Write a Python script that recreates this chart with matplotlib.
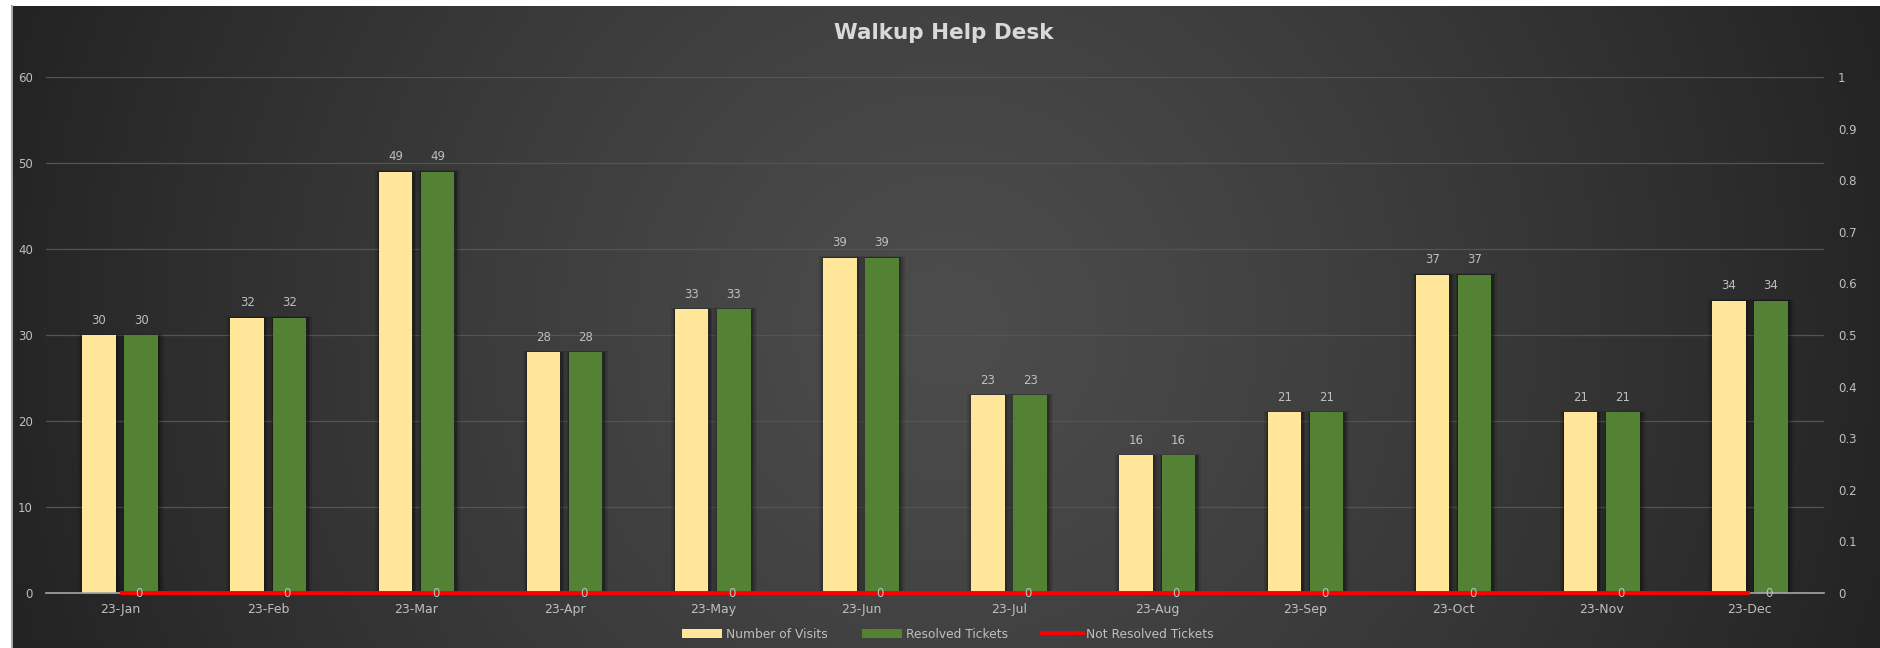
import numpy as np
import matplotlib
matplotlib.use("Agg")
import matplotlib.pyplot as plt
from matplotlib.lines import Line2D
from matplotlib.patches import Patch

# ---- data -------------------------------------------------------------
months = ["23-Jan", "23-Feb", "23-Mar", "23-Apr", "23-May", "23-Jun",
          "23-Jul", "23-Aug", "23-Sep", "23-Oct", "23-Nov", "23-Dec"]
visits = [30, 32, 49, 28, 33, 39, 23, 16, 21, 37, 21, 34]
resolved = [30, 32, 49, 28, 33, 39, 23, 16, 21, 37, 21, 34]
not_resolved = [0, 0, 0, 0, 0, 0, 0, 0, 0, 0, 0, 0]

left_ticks = [0, 10, 20, 30, 40, 50, 60]
left_tick_labels = ["0", "10", "20", "30", "40", "50", "60"]
right_ticks = [0, 0.1, 0.2, 0.3, 0.4, 0.5, 0.6, 0.7, 0.8, 0.9, 1.0]
right_tick_labels = ["0", "0.1", "0.2", "0.3", "0.4", "0.5",
                     "0.6", "0.7", "0.8", "0.9", "1"]

series_names = ["Number of Visits", "Resolved Tickets", "Not Resolved Tickets"]

# ---- style ------------------------------------------------------------
C_VISITS = "#FFE699"
C_RESOLVED = "#548235"
C_NOT = "#FF0000"
C_TEXT = "#bfbfbf"
C_GRID = "#545454"

W, H = 1880, 648
fig = plt.figure(figsize=(W / 100, H / 100), dpi=100, facecolor="white")

# dark radial gradient backdrop of the chart area
bg = fig.add_axes([13 / W, 0, 1 - 13 / W, (H - 6) / H])
nx, ny = 940, 321
gx, gy = np.meshgrid(np.linspace(0, 1, nx), np.linspace(0, 1, ny))
dist = np.sqrt(((gx - 0.5) / 0.52) ** 2 + ((gy - 0.5) / 1.5) ** 2)
shade = 0.300 - 0.160 * np.clip(dist, 0, 1) ** 1.2
bg.imshow(np.dstack([shade, shade, shade]), aspect="auto",
          extent=(0, 1, 0, 1), interpolation="bilinear")
bg.set_axis_off()

# thin border at the left edge of the chart area
fig.add_artist(Line2D([12 / W, 12 / W], [0, (H - 6) / H],
                      transform=fig.transFigure, color="#a6a6a6", lw=1.4))

ax = fig.add_axes([46 / W, (H - 593) / H, (1824 - 46) / W, (593 - 77) / H])
ax.set_facecolor("none")

x = np.arange(len(months))
off = 0.142
bw = 0.226
px_x = 1 / 148.17          # one pixel in category units
px_y = 60 / 516            # one pixel in value units

# soft drop shadow behind each bar
for grow, alpha in [(10, 0.10), (6, 0.15), (3, 0.22)]:
    for xs, vals in [(x - off, visits), (x + off, resolved)]:
        ax.bar(xs + px_x, np.array(vals) + grow * 0.15 * px_y,
               width=bw + grow * px_x, color="black", alpha=alpha,
               linewidth=0, zorder=1)

ax.bar(x - off, visits, width=bw, color=C_VISITS, linewidth=0, zorder=2)
ax.bar(x + off, resolved, width=bw, color=C_RESOLVED, linewidth=0, zorder=2)

for xi, v in zip(x, visits):
    ax.annotate(str(v), (xi - off, v), xytext=(0, 10.8),
                textcoords="offset points", ha="center", va="center",
                fontsize=8.5, color=C_TEXT)
for xi, v in zip(x, resolved):
    ax.annotate(str(v), (xi + off, v), xytext=(0, 10.8),
                textcoords="offset points", ha="center", va="center",
                fontsize=8.5, color=C_TEXT)

ax.set_xlim(-0.5, len(months) - 0.5)
ax.set_ylim(0, 60)
ax.set_xticks(x, months)
ax.set_yticks(left_ticks, left_tick_labels)
ax.yaxis.grid(True, color=C_GRID, lw=0.9)
ax.set_axisbelow(True)
ax.tick_params(axis="y", length=0, pad=9.4, labelsize=8.5, labelcolor=C_TEXT)
ax.tick_params(axis="x", length=0, pad=7.5, labelsize=9, labelcolor=C_TEXT)
for s in ["top", "left", "right"]:
    ax.spines[s].set_visible(False)
ax.spines["bottom"].set_color("#a6a6a6")
ax.spines["bottom"].set_linewidth(1.2)

# secondary axis carrying the unresolved-ticket line
ax2 = ax.twinx()
ax2.set_ylim(0, 1)
ax2.set_yticks(right_ticks, right_tick_labels)
ax2.tick_params(axis="y", length=0, pad=10, labelsize=8.5, labelcolor=C_TEXT)
for s in ax2.spines.values():
    s.set_visible(False)
ax2.plot(x, not_resolved, color=C_NOT, lw=2.8, solid_capstyle="butt",
         zorder=3, clip_on=False)
for xi, v in zip(x, not_resolved):
    ax2.annotate(str(v), (xi, v), xytext=(13.7, -0.6),
                 textcoords="offset points", ha="center", va="center",
                 fontsize=8.5, color=C_TEXT, zorder=4)

fig.text(944 / W, 1 - 33 / H, "Walkup Help Desk", ha="center", va="center",
         fontsize=15.5, fontweight="bold", color="#d9d9d9")

handles = [Patch(facecolor=C_VISITS, edgecolor="none"),
           Patch(facecolor=C_RESOLVED, edgecolor="none"),
           Line2D([], [], color=C_NOT, lw=2.8)]
fig.legend(handles, series_names, loc="center",
           bbox_to_anchor=(948 / W, 1 - 634 / H), ncol=3, frameon=False,
           fontsize=8.8, labelcolor=C_TEXT, handlelength=3.3,
           handletextpad=0.3, columnspacing=2.8, handleheight=0.75)

fig.savefig("out.png", dpi=100)
